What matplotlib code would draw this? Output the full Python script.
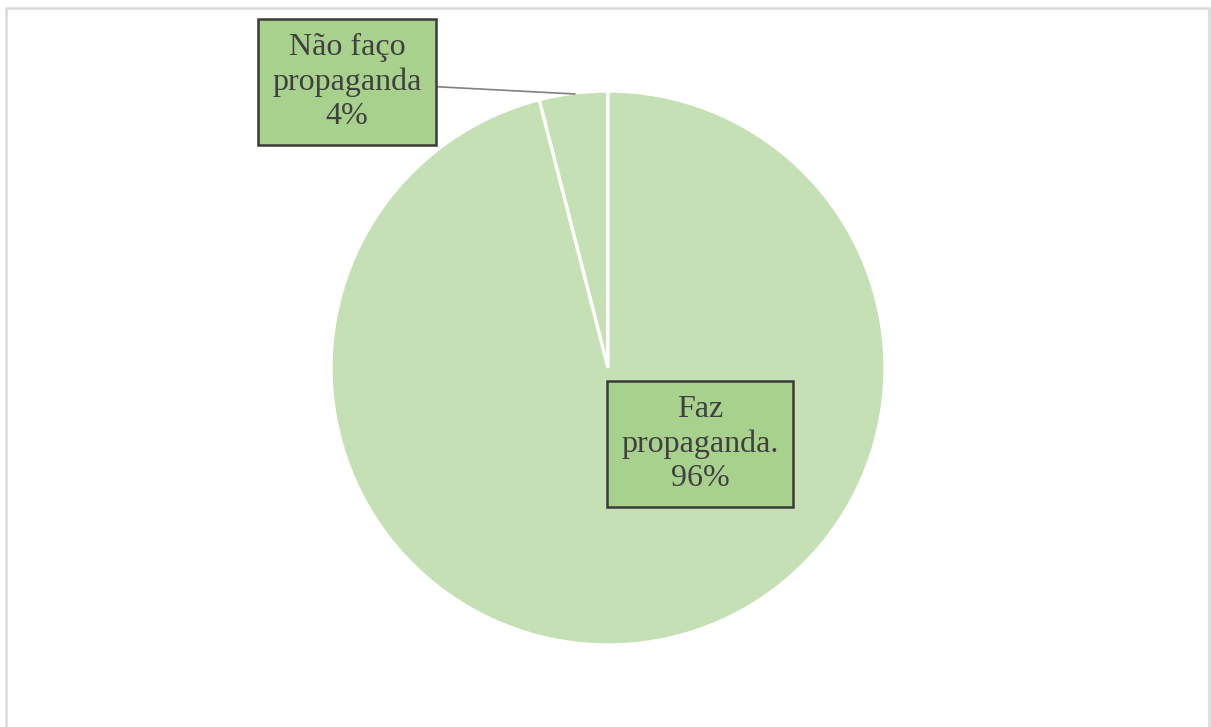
import matplotlib.pyplot as plt
from matplotlib.patches import Rectangle

# Data
labels = ["Não faço\npropaganda", "Faz\npropaganda."]
values = [4, 96]
percent_labels = ["4%", "96%"]

W, H = 1211, 727
fig = plt.figure(figsize=(W / 100, H / 100), dpi=100)
ax = fig.add_axes([0, 0, 1, 1])

# Chart area border
fig.patches.append(Rectangle((6 / W, -0.01), (1209 - 6) / W, 1 - 8 / H + 0.01,
                             transform=fig.transFigure, fill=False,
                             edgecolor="#d9d9d9", linewidth=1.8))

center = (608, H - 368)
radius = 277
wedges, _ = ax.pie(values, startangle=90, counterclock=True,
                   colors=["#c5e0b4", "#c5e0b4"], radius=radius, center=center,
                   wedgeprops=dict(edgecolor="white", linewidth=2.4),
                   frame=True)
ax.set_xlim(0, W)
ax.set_ylim(0, H)
ax.axis("off")

box = dict(boxstyle="square,pad=0.45", facecolor="#a9d18e",
           edgecolor="#3a3a3a", linewidth=1.8)
font = dict(family="Liberation Serif", size=23, color="#404040",
            ha="center", va="center", linespacing=1.22)

# Small slice label with leader line
ax.annotate(labels[0] + "\n" + percent_labels[0],
            xy=(575, H - 94), xytext=(347, H - 82),
            bbox=box, **font,
            arrowprops=dict(arrowstyle="-", color="#808080", linewidth=1.2,
                            shrinkA=0, shrinkB=0))

# Large slice label
ax.text(700, H - 444, labels[1] + "\n" + percent_labels[1], bbox=box, **font)

plt.savefig("out.png", dpi=100)
